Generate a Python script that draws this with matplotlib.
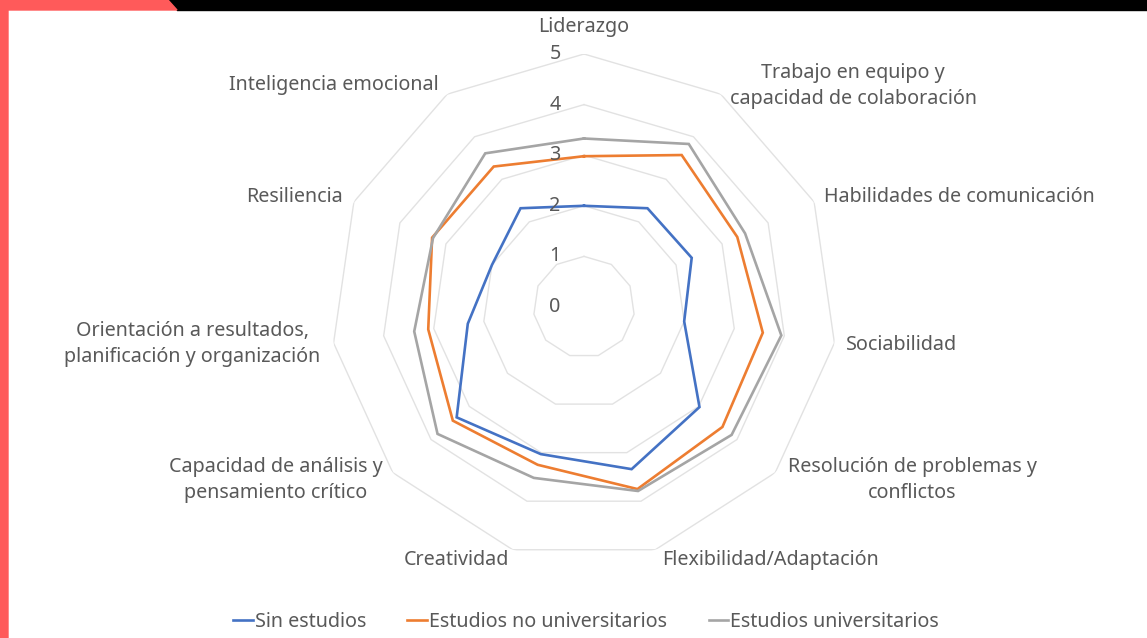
import numpy as np
import matplotlib
matplotlib.use("Agg")
import matplotlib.pyplot as plt
from matplotlib.patches import Polygon
from matplotlib.transforms import offset_copy

plt.rcParams['font.family'] = ['Noto Sans', 'DejaVu Sans']

categories = ['Liderazgo', 'Trabajo en equipo y\ncapacidad de colaboración',
              'Habilidades de comunicación', 'Sociabilidad',
              'Resolución de problemas y\nconflictos', 'Flexibilidad/Adaptación',
              'Creatividad', 'Capacidad de análisis y\npensamiento crítico',
              'Orientación a resultados,\nplanificación y organización',
              'Resiliencia', 'Inteligencia emocional']

sin_estudios = [2.0, 2.32, 2.34, 2.0, 3.02, 3.34, 3.03, 3.33, 2.32, 2.0, 2.32]
no_universitarios = [2.98, 3.57, 3.33, 3.57, 3.62, 3.75, 3.25, 3.43, 3.11, 3.30, 3.30]
universitarios = [3.33, 3.83, 3.50, 3.94, 3.86, 3.79, 3.52, 3.83, 3.39, 3.28, 3.61]

series = [('Sin estudios', sin_estudios, '#4472C4'),
          ('Estudios no universitarios', no_universitarios, '#ED7D31'),
          ('Estudios universitarios', universitarios, '#A5A5A5')]
levels = [0, 1, 2, 3, 4, 5]

# label placement in pixels (x, y, ha)
label_pos = [(584, 27, 'center'), (853, 86, 'center'), (824, 197, 'left'),
             (846, 345, 'left'), (912, 480, 'center'), (771, 560, 'center'),
             (456, 560, 'center'), (276, 480, 'center'), (192, 344, 'center'),
             (295, 197, 'center'), (334, 85, 'center')]

W, H = 1147, 638
fig = plt.figure(figsize=(W / 100, H / 100), dpi=100)
FS = 14.2

# background frame in pixel coords
bg = fig.add_axes([0, 0, 1, 1], zorder=0)
bg.set_xlim(0, W)
bg.set_ylim(H, 0)
bg.axis('off')
bg.add_patch(Polygon([(168, 0), (W, 0), (W, 10), (177, 10)], closed=True, color='black'))
bg.add_patch(Polygon([(0, 0), (168, 0), (177, 10), (8, 10), (8, H), (0, H)],
                     closed=True, color='#FF5A5A'))

cx, cy, R = 584, 307, 253
ax = fig.add_axes([(cx - R) / W, (H - cy - R) / H, 2 * R / W, 2 * R / H],
                  projection='polar', zorder=1)
ax.patch.set_alpha(0)
ax.set_theta_zero_location('N')
ax.set_theta_direction(-1)
ax.set_ylim(0, 5)
ax.grid(False)
ax.spines['polar'].set_visible(False)
ax.set_xticks([])
ax.set_yticks([])

n = len(categories)
theta = np.linspace(0, 2 * np.pi, n, endpoint=False)
theta_c = np.append(theta, theta[0])

for lv in levels[1:]:
    ax.plot(theta_c, [lv] * (n + 1), color='#E2E2E2', lw=1.0, zorder=1)

for name, vals, col in series:
    ax.plot(theta_c, list(vals) + [vals[0]], color=col, lw=1.9, label=name, zorder=3,
            solid_joinstyle='miter')

tr = offset_copy(ax.transData, fig=fig, x=-0.29, y=0.0, units='inches')
for lv in levels:
    ax.text(0, lv, str(lv), transform=tr, ha='center', va='center',
            fontsize=FS, color='#595959', zorder=4)

for lab, (x, y, ha) in zip(categories, label_pos):
    bg.text(x, y, lab, ha=ha, va='center', fontsize=FS, color='#595959',
            linespacing=1.45)

handles, labels = ax.get_legend_handles_labels()
fig.legend(handles, labels, loc='center', bbox_to_anchor=(586 / W, 1 - 622 / H),
           ncol=3, frameon=False, fontsize=FS, handlelength=1.0, handletextpad=0.1,
           columnspacing=2.1, labelcolor='#595959')

fig.savefig('out.png', dpi=100, facecolor='white')
